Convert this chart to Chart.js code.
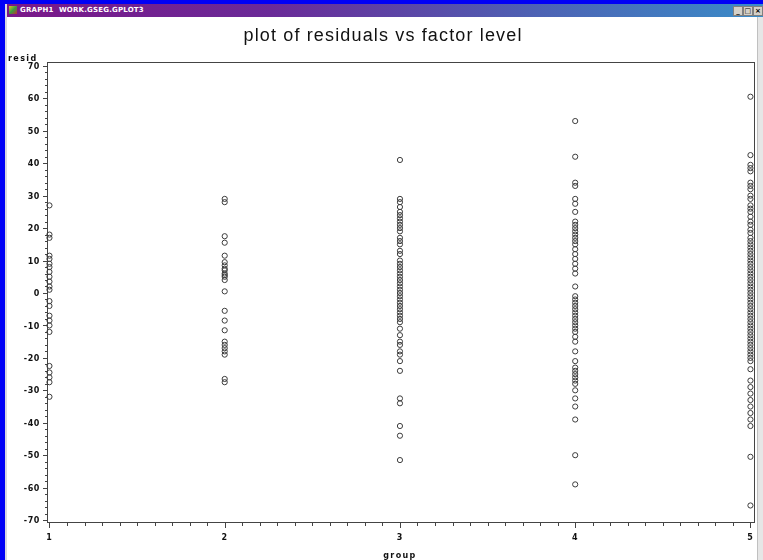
<!DOCTYPE html>
<html>
<head>
<meta charset="utf-8">
<script src="https://cdn.jsdelivr.net/npm/chart.js@4.4.0/dist/chart.umd.min.js"></script>
<style>
  html, body { margin: 0; padding: 0; width: 763px; height: 560px; overflow: hidden; background: #0000f6; }
  #win { position: absolute; left: 5px; top: 4px; width: 758px; height: 556px; background: #fff; border-left: 2px solid #d8d8e0; box-sizing: border-box; }
  #bar { position: absolute; left: 0; top: 0; right: 0; height: 13px; background: linear-gradient(90deg, #7a1888 0%, #6a2a98 35%, #4d62b4 70%, #3a8cc8 100%);
         color: #fff; font: bold 7px "DejaVu Sans"; line-height: 13px; padding-left: 13px; letter-spacing: 0.2px; }
  #ico { position: absolute; left: 2px; top: 2px; width: 8px; height: 8px; background: linear-gradient(135deg, #e8c020, #3a9a40 50%, #c03030); }
  #btns { position: absolute; right: 0; top: 2px; height: 9px; display: flex; gap: 0; }
  #btns div { width: 8px; height: 8px; background: #d4d0c8; border: 1px solid #808080; font: bold 7px "DejaVu Sans"; color: #000; line-height: 8px; text-align: center; }
  #scroll { position: absolute; left: 757px; top: 17px; width: 6px; height: 543px; background: #e6e6e6; border-left: 1px solid #c0c0c0; box-sizing: border-box; }
  canvas { position: absolute; left: 0; top: 0; }
</style>
</head>
<body>
<div id="win">
  <div id="bar"><div id="ico"></div>GRAPH1 &nbsp;WORK.GSEG.GPLOT3<div id="btns"><div>_</div><div>□</div><div>×</div></div></div>
</div>
<div id="scroll"></div>
<canvas id="c" width="763" height="560"></canvas>
<script>
// residuals, one list per factor level
const GROUPS = [1, 2, 3, 4, 5];
const resid1 = [27, 18, 17, 11.5, 10.5, 9, 8, 6.5, 5, 3.5, 2, 1, -2.5, -4, -7, -8.5, -10, -12, -22.5, -24.5, -26, -27.5, -32];
const resid2 = [29, 28, 17.5, 15.5, 11.5, 9.5, 8.5, 7.5, 7, 6, 5.5, 5, 4, 0.5, -5.5, -8.5, -11.5, -15, -16, -17, -18, -19, -26.5, -27.5];
const resid3 = [41, 29, 28, 26.5, 25, 24, 23, 22, 21, 20, 19, 17, 16, 15, 13, 12, 10, 9, 8, 7, 6, 5, 4, 3, 2, 1, 0, -1, -2, -3, -4, -5, -6, -7, -8, -9,
                -11, -13, -15, -16, -18, -19, -21, -24, -32.5, -34, -41, -44, -51.5];
const resid4 = [53, 42, 34, 33, 29, 27.5, 25, 22, 21, 20, 19, 18, 17, 16, 15, 13.5, 12, 10.5, 9, 7.5, 6, 2, -1, -2, -3, -4, -5, -6, -7, -8, -9, -10, -11, -12,
                -13.5, -15, -18, -21, -23, -24, -25, -26, -27, -28, -30, -32.5, -35, -39, -50, -59];
const resid5 = [60.5, 42.5, 39.5, 38.5, 37.5, 34, 33, 32, 30, 29, 27, 26, 25, 23.5, 22, 21, 19.5, 18.5, 17, 16, 15, 14, 13, 12, 11, 10, 9, 8, 7, 6, 5, 4, 3, 2, 1,
                0, -1, -2, -3, -4, -5, -6, -7, -8, -9, -10, -11, -12, -13, -14, -15, -16, -17, -18, -19, -20, -21, -23.5,
                -27, -29, -31, -33, -35, -37, -39, -41, -50.5, -65.5];
const RESIDS = [resid1, resid2, resid3, resid4, resid5];

const Y_TICKS = [-70, -60, -50, -40, -30, -20, -10, 0, 10, 20, 30, 40, 50, 60, 70];
const X_TICKS = GROUPS;
const TITLE = 'plot of residuals vs factor level';
const Y_LABEL = 'resid';
const X_LABEL = 'group';

const points = [];
GROUPS.forEach((g, i) => RESIDS[i].forEach(v => points.push({ x: g, y: v })));

const tickFont = 'bold 8px "DejaVu Sans"';

// SAS-style frame, ticks and labels drawn off the chart's own scales
const sasAxes = {
  id: 'sasAxes',
  beforeDatasetsDraw(chart) {
    const { ctx, chartArea: a, scales: { x, y } } = chart;
    ctx.save();
    ctx.strokeStyle = '#444';
    ctx.lineWidth = 1;
    ctx.strokeRect(a.left + 0.5, a.top + 0.5, a.right - a.left - 1, a.bottom - a.top - 1);

    ctx.beginPath();
    // y ticks: major every 10, minor every 2
    for (let v = Y_TICKS[0]; v <= Y_TICKS[Y_TICKS.length - 1]; v += 2) {
      const py = Math.round(y.getPixelForValue(v)) + 0.5;
      const len = v % 10 === 0 ? 4 : 2;
      ctx.moveTo(a.left, py); ctx.lineTo(a.left - len, py);
    }
    // x ticks: major at each group, minor every 0.1
    for (let k = 10; k <= 50; k++) {
      const px = Math.round(x.getPixelForValue(k / 10)) + 0.5;
      const len = k % 10 === 0 ? 5 : 3;
      ctx.moveTo(px, a.bottom); ctx.lineTo(px, a.bottom + len);
    }
    ctx.stroke();

    ctx.fillStyle = '#111';
    ctx.font = tickFont;
    ctx.letterSpacing = '0.6px';
    ctx.textAlign = 'right';
    ctx.textBaseline = 'middle';
    Y_TICKS.forEach(v => ctx.fillText(String(v), a.left - 7, y.getPixelForValue(v) + 1));

    ctx.textAlign = 'center';
    X_TICKS.forEach(v => ctx.fillText(String(v), x.getPixelForValue(v), a.bottom + 15));

    ctx.letterSpacing = '1.4px';
    ctx.textAlign = 'left';
    ctx.textBaseline = 'alphabetic';
    ctx.fillText(Y_LABEL, 8, a.top - 1);
    ctx.textAlign = 'center';
    ctx.fillText(X_LABEL, x.getPixelForValue(3), a.bottom + 35);

    // title stretched to the width it has in the picture
    ctx.font = '18px "Liberation Sans"';
    ctx.letterSpacing = '0px';
    const w = ctx.measureText(TITLE).width;
    ctx.letterSpacing = ((279 - w) / TITLE.length).toFixed(2) + 'px';
    ctx.fillText(TITLE, 383, 41);
    ctx.restore();
  }
};

new Chart(document.getElementById('c'), {
  type: 'scatter',
  data: {
    datasets: [{
      data: points,
      pointStyle: 'circle',
      pointRadius: 2.6,
      pointBorderWidth: 1,
      pointBorderColor: '#3c3c3c',
      pointBackgroundColor: 'rgba(0,0,0,0)',
      clip: false
    }]
  },
  options: {
    responsive: false,
    animation: false,
    layout: { padding: { left: 47, right: 8, top: 62, bottom: 37 } },
    scales: {
      x: { type: 'linear', min: 0.986, max: 5.026, display: false },
      y: { type: 'linear', min: -70.9, max: 71.2, display: false }
    },
    plugins: { legend: { display: false }, tooltip: { enabled: false } }
  },
  plugins: [sasAxes]
});
</script>
</body>
</html>
